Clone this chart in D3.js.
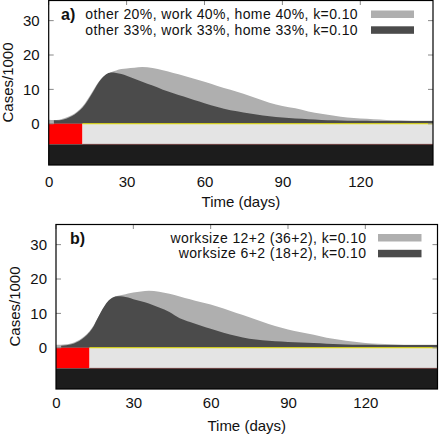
<!DOCTYPE html>
<html><head><meta charset="utf-8">
<script src="https://cdn.jsdelivr.net/npm/d3@7"></script>
<style>html,body{margin:0;padding:0;background:#fff;}svg{display:block;font-family:"Liberation Sans",Arial,sans-serif;}</style>
</head><body><svg id="c" width="440" height="436"></svg>
<script>
const days = [0,2,4,6,8,10,12,14,16,18,20,22,24,26,28,30,33,36,40,44,48,52,56,60,65,70,75,80,85,90,95,100,105,110,115,120,125,130,135,140,148];
const aLight = [1.2,1.1,1.2,1.6,2.2,3.0,4.2,6.0,8.3,10.8,12.9,14.2,15.0,15.5,15.9,16.1,16.3,16.5,16.2,15.6,14.8,14.0,13.1,12.2,11.0,9.9,8.7,7.4,6.1,5.2,4.5,3.6,2.9,2.3,1.8,1.5,1.3,1.1,1.0,0.9,0.9];
const aDark = [null,1.0,1.0,1.3,1.9,2.7,3.9,5.6,7.9,10.5,12.8,14.3,14.9,14.8,14.5,14.0,13.1,12.2,11.1,9.9,8.9,7.9,6.9,6.0,4.9,3.9,3.3,2.7,2.15,1.8,1.5,1.3,1.1,1.0,0.9,0.85,0.8,0.8,0.8,0.8,0.8];
const bLight = [0.9,0.9,1.0,1.3,1.9,2.8,4.0,5.8,8.4,11.0,13.2,14.5,15.1,15.4,15.8,16.1,16.4,16.6,16.3,15.7,14.9,14.1,13.3,12.6,11.4,10.1,8.9,7.6,6.3,5.3,4.5,3.8,2.9,2.3,1.8,1.4,1.2,1.0,0.9,0.9,0.9];
const bDark = [null,0.6,0.7,1.0,1.6,2.5,3.7,5.5,8.4,11.2,13.4,14.6,15.0,14.9,14.6,14.1,13.5,12.9,11.7,10.4,8.6,7.5,6.5,5.5,4.4,3.4,2.6,2.2,1.9,1.7,1.5,1.4,1.2,1.0,0.9,0.85,0.8,0.8,0.8,0.8,0.8];
const xTicks = [0,30,60,90,120];
const yTicks = [0,10,20,30];
const aLabels = ["other 20%, work 40%, home 40%, k=0.10","other 33%, work 33%, home 33%, k=0.10"];
const bLabels = ["worksize 12+2 (36+2), k=0.10","worksize 6+2 (18+2), k=0.10"];
const panelTags = ["a)","b)"];
const redEnd = 13;      // day where red block ends
const bandLevels = [0,-6,-12];

const svg = d3.select("#c");
const panels = [
  {left:48.7,right:433,top:0,bottom:165,light:aLight,dark:aDark,labels:aLabels,tag:panelTags[0],
   tagX:61,row1:19,textEnd:358,swX:371,swW:43,ylabX:7.5,xlabY:186.5,titleY:207},
  {left:56,right:437.5,top:224,bottom:389,light:bLight,dark:bDark,labels:bLabels,tag:panelTags[1],
   tagX:70,row1:242.5,textEnd:366.5,swX:378,swW:43.5,ylabX:14.5,xlabY:408,titleY:431}
];

panels.forEach(p=>{
  const x = d3.scaleLinear().domain([0,148]).range([p.left,p.right]);
  const y = d3.scaleLinear().domain([-12,36]).range([p.bottom,p.top]);
  const g = svg.append("g");
  const mk = vals => days.map((d,i)=>({d,v:vals[i]}));
  const area = d3.area().defined(e=>e.v!=null).x(e=>x(e.d)).y0(y(0)).y1(e=>y(e.v)).curve(d3.curveMonotoneX);
  g.append("path").attr("d",area(mk(p.light))).attr("fill","#afafaf");
  g.append("path").attr("d",area(mk(p.dark))).attr("fill","#4b4b4b");
  // bands
  g.append("rect").attr("x",x(0)).attr("y",y(bandLevels[0])).attr("width",x(redEnd)-x(0)).attr("height",y(bandLevels[1])-y(bandLevels[0])).attr("fill","#ff0000");
  g.append("rect").attr("x",x(redEnd)).attr("y",y(bandLevels[0])).attr("width",x(148)-x(redEnd)).attr("height",y(bandLevels[1])-y(bandLevels[0])).attr("fill","#e4e4e4");
  g.append("rect").attr("x",x(0)).attr("y",y(bandLevels[1])).attr("width",x(148)-x(0)).attr("height",y(bandLevels[2])-y(bandLevels[1])).attr("fill","#1c1c1c");
  g.append("line").attr("x1",x(redEnd)).attr("x2",x(148)).attr("y1",y(0)).attr("y2",y(0)).attr("stroke","#e6e000").attr("stroke-width",1.2);
  g.append("line").attr("x1",x(redEnd)).attr("x2",x(148)).attr("y1",y(-6)).attr("y2",y(-6)).attr("stroke","#6a3030").attr("stroke-width",0.8);
  // ticks (inward, mirrored)
  yTicks.forEach(t=>{
    g.append("line").attr("x1",x(0)).attr("x2",x(0)+5).attr("y1",y(t)).attr("y2",y(t)).attr("stroke","#888");
    g.append("line").attr("x1",x(148)).attr("x2",x(148)-5).attr("y1",y(t)).attr("y2",y(t)).attr("stroke","#888");
  });
  xTicks.forEach(t=>{
    g.append("line").attr("x1",x(t)).attr("x2",x(t)).attr("y1",p.top).attr("y2",p.top+5).attr("stroke","#888");
  });
  // frame
  g.append("rect").attr("x",p.left).attr("y",p.top+0.5).attr("width",p.right-p.left).attr("height",p.bottom-p.top-0.5)
    .attr("fill","none").attr("stroke","#000").attr("stroke-width",1.2);
  // axes labels
  const ya = d3.axisLeft(y).tickValues(yTicks).tickSize(0).tickPadding(9);
  const yg = g.append("g").attr("transform",`translate(${p.left},0)`).call(ya);
  yg.select(".domain").remove();
  yg.selectAll("text").attr("font-size",15).attr("fill","#111").attr("font-family","Liberation Sans, Arial, sans-serif");
  const xa = d3.axisBottom(x).tickValues(xTicks).tickSize(0).tickPadding(0);
  const xg = g.append("g").attr("transform",`translate(0,${p.bottom})`).call(xa);
  xg.select(".domain").remove();
  xg.selectAll("text").attr("font-size",15).attr("fill","#111").attr("dy",null).attr("y",p.xlabY-p.bottom).attr("font-family","Liberation Sans, Arial, sans-serif");
  g.append("text").attr("x",(p.left+p.right)/2).attr("y",p.titleY).attr("text-anchor","middle").attr("font-size",15).attr("fill","#111").text("Time (days)");
  g.append("text").attr("transform",`translate(${p.ylabX},${y(12)}) rotate(-90)`).attr("text-anchor","middle").attr("dominant-baseline","central").attr("font-size",15).attr("fill","#111").text("Cases/1000");
  // legend
  g.append("text").attr("x",p.tagX).attr("y",p.row1+1).attr("font-size",16).attr("font-weight","bold").attr("fill","#111").text(p.tag);
  const cols = ["#afafaf","#4b4b4b"];
  p.labels.forEach((l,i)=>{
    const by = p.row1 + i*15.8;
    g.append("text").attr("x",p.textEnd).attr("y",by).attr("text-anchor","end").attr("font-size",14)
      .attr("letter-spacing",0.4).attr("fill","#111").text(l);
    g.append("rect").attr("x",p.swX).attr("y",by-8.5).attr("width",p.swW).attr("height",7.5).attr("fill",cols[i]);
  });
});
</script></body></html>
